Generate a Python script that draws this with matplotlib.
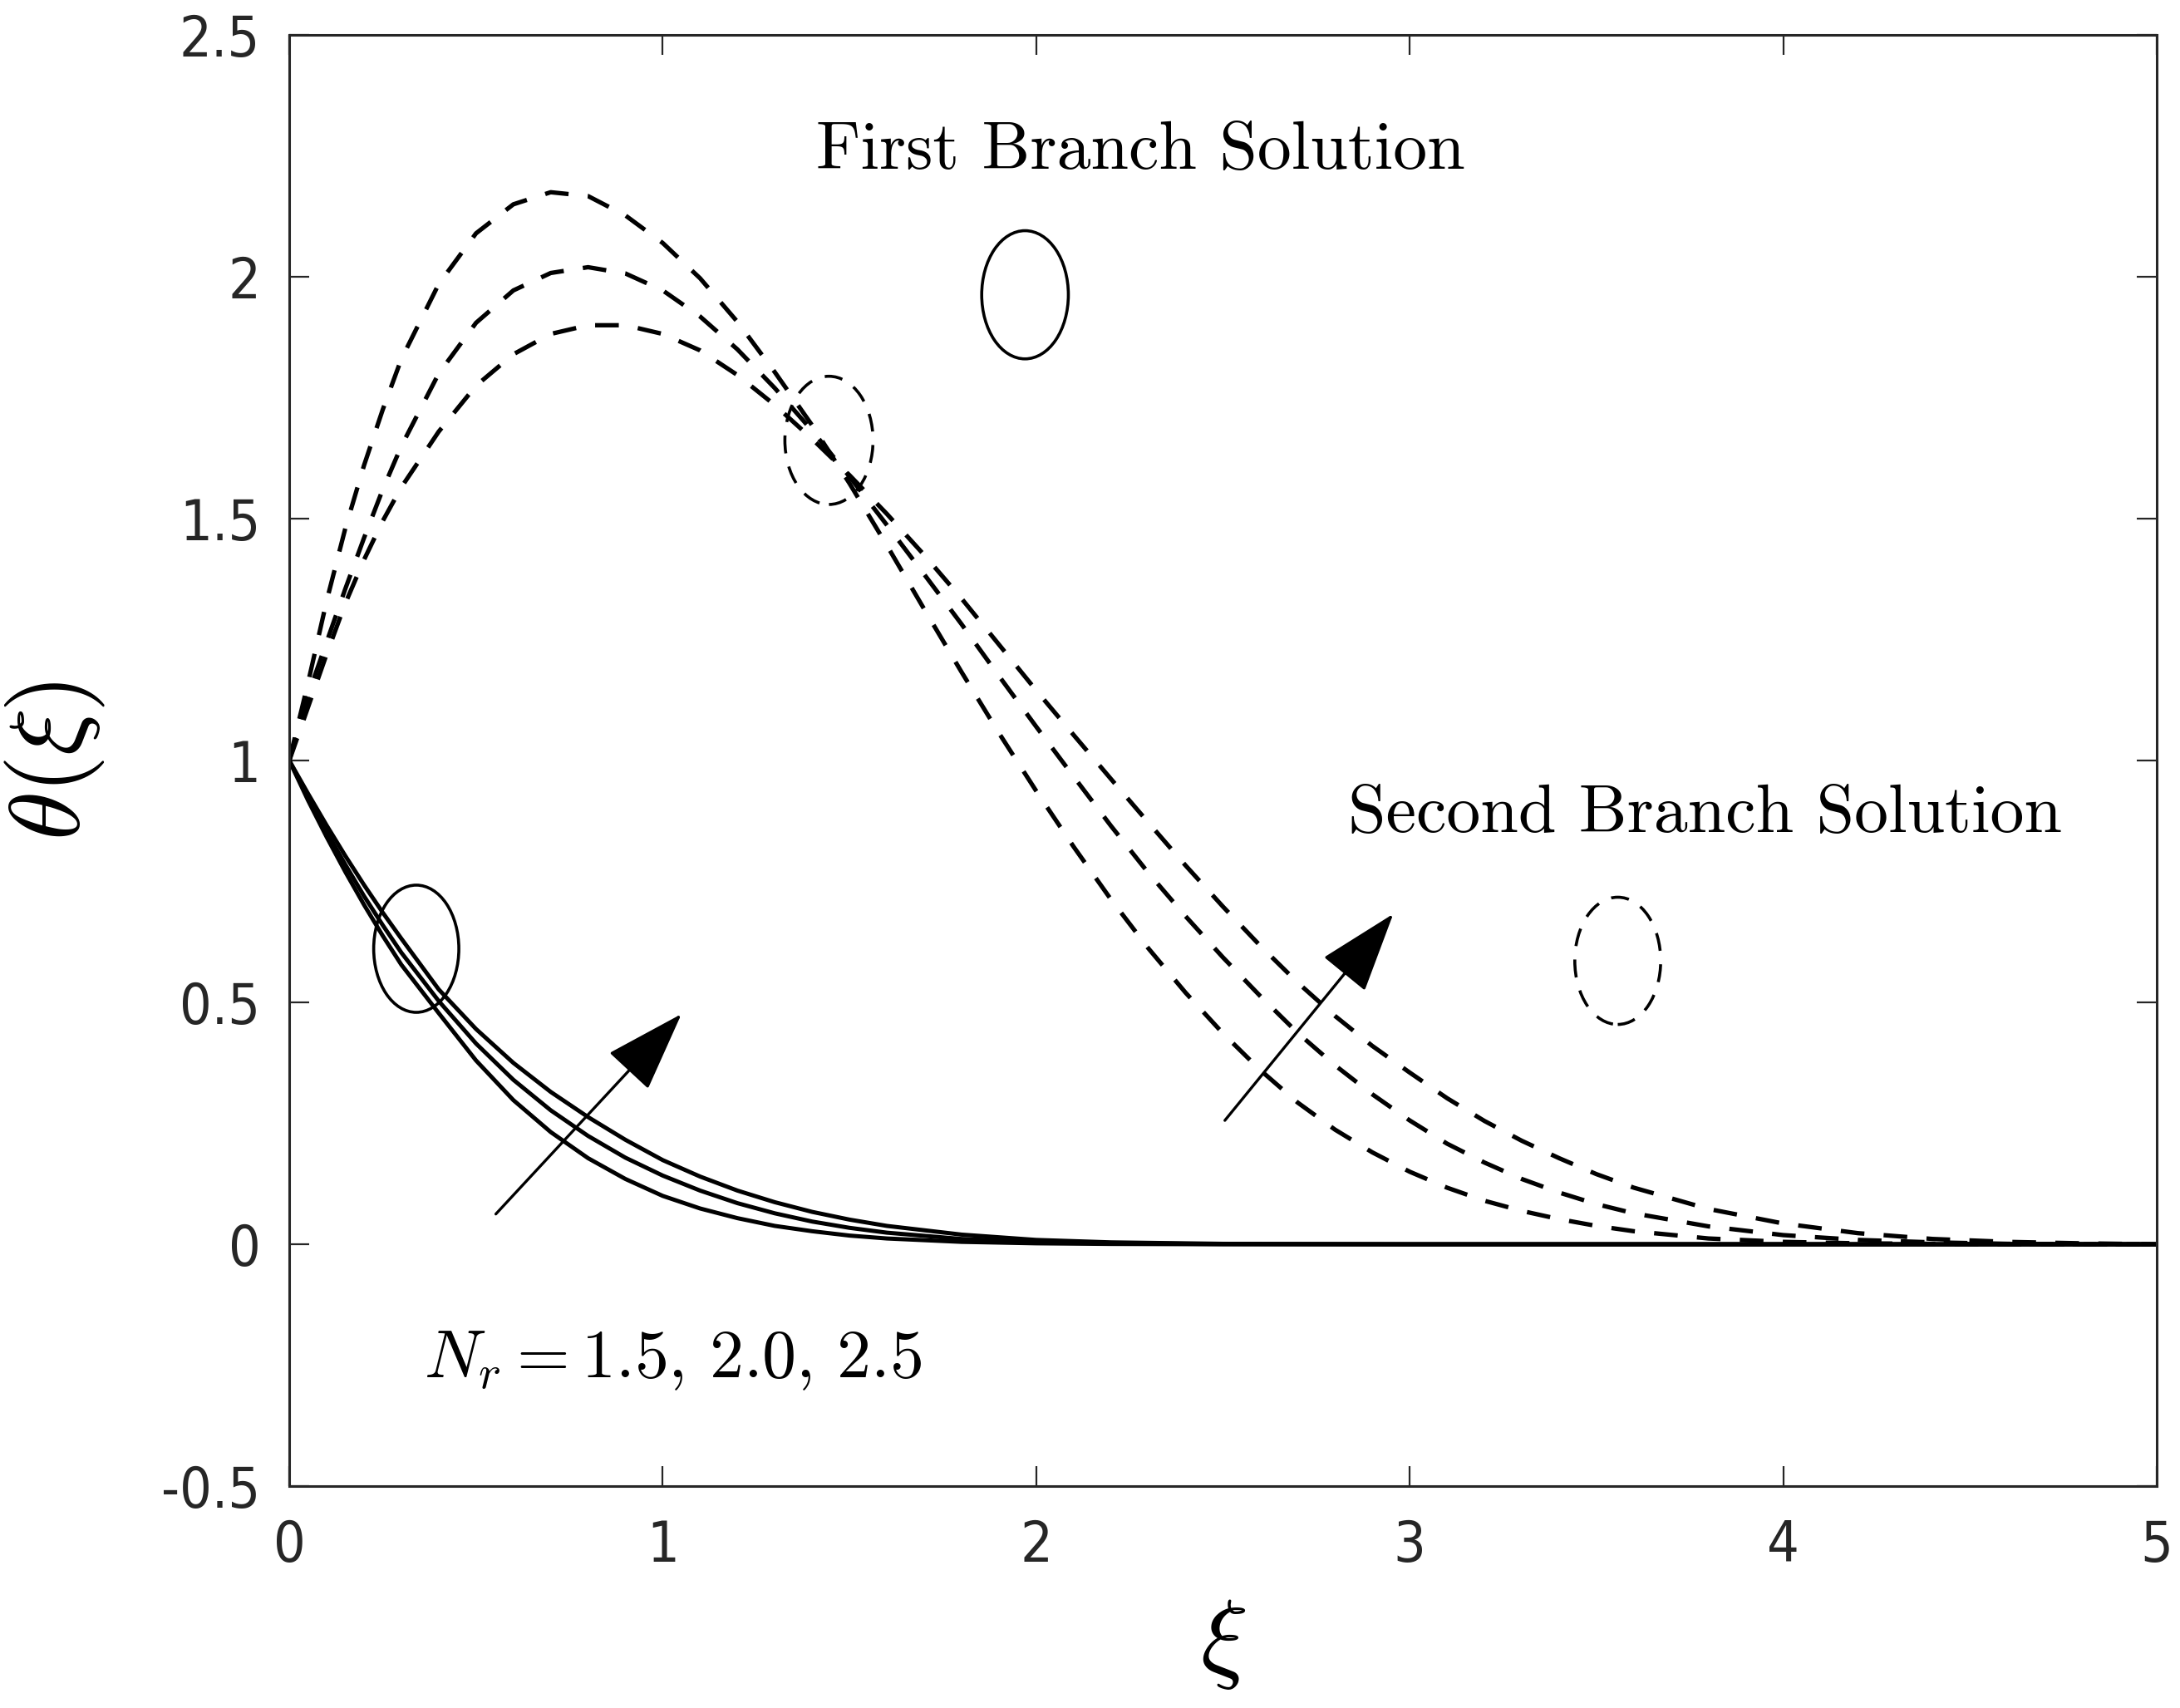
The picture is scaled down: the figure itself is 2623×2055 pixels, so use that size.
import matplotlib
matplotlib.use("Agg")
import matplotlib.pyplot as plt
from matplotlib.patches import Ellipse

plt.rcParams['mathtext.fontset'] = 'cm'

# first branch solution (solid), N_r = 1.5, 2.0, 2.5
xi_first = [0, 0.05, 0.1, 0.15, 0.2, 0.25, 0.3, 0.4, 0.5, 0.6, 0.7, 0.8, 0.9, 1.0,
            1.1, 1.2, 1.3, 1.4, 1.5, 1.6, 1.8, 2.0, 2.2, 2.5, 3.0, 3.5, 4.0, 4.5, 5.0]
first_nr15 = [1.0, 0.918, 0.842, 0.77, 0.702, 0.638, 0.578, 0.478, 0.38, 0.298, 0.232, 0.178, 0.135, 0.1,
              0.074, 0.054, 0.038, 0.027, 0.018, 0.012, 0.005, 0.002, 0.0007, 0.0, 0.0, 0.0, 0.0, 0.0, 0.0]
first_nr20 = [1.0, 0.925, 0.853, 0.785, 0.72, 0.66, 0.603, 0.503, 0.415, 0.34, 0.277, 0.224, 0.179, 0.142,
              0.111, 0.085, 0.064, 0.047, 0.034, 0.024, 0.011, 0.005, 0.002, 0.0005, 0.0, 0.0, 0.0, 0.0, 0.0]
first_nr25 = [1.0, 0.932, 0.866, 0.803, 0.743, 0.686, 0.632, 0.527, 0.445, 0.375, 0.315, 0.263, 0.216, 0.174,
              0.14, 0.111, 0.087, 0.067, 0.051, 0.038, 0.02, 0.009, 0.004, 0.001, 0.0, 0.0, 0.0, 0.0, 0.0]

# second branch solution (dashed)
xi_second = [0, 0.025, 0.05, 0.1, 0.15, 0.2, 0.25, 0.3, 0.4, 0.5, 0.6, 0.7, 0.8, 0.9, 1.0,
             1.1, 1.2, 1.3, 1.4, 1.5, 1.6, 1.7, 1.8, 1.9, 2.0, 2.1, 2.2, 2.3, 2.4, 2.5,
             2.6, 2.7, 2.8, 2.9, 3.0, 3.1, 3.2, 3.3, 3.4, 3.5, 3.6, 3.8, 4.0, 4.2, 4.4,
             4.6, 4.8, 5.0]
second_a = [1.0, 1.055, 1.11, 1.22, 1.325, 1.415, 1.495, 1.565, 1.68, 1.775, 1.84, 1.882, 1.9, 1.9, 1.882,
            1.848, 1.797, 1.735, 1.665, 1.59, 1.51, 1.425, 1.335, 1.24, 1.145, 1.053, 0.962, 0.872, 0.783, 0.698,
            0.617, 0.541, 0.472, 0.41, 0.355, 0.302, 0.255, 0.214, 0.178, 0.145, 0.117, 0.073, 0.043, 0.023, 0.011,
            0.005, 0.002, 0.0]
second_b = [1.0, 1.07, 1.135, 1.245, 1.355, 1.46, 1.56, 1.65, 1.8, 1.905, 1.972, 2.008, 2.02, 2.007, 1.972,
            1.918, 1.85, 1.77, 1.682, 1.587, 1.487, 1.385, 1.282, 1.175, 1.07, 0.967, 0.865, 0.768, 0.678, 0.593,
            0.513, 0.437, 0.37, 0.31, 0.256, 0.208, 0.169, 0.135, 0.107, 0.083, 0.064, 0.037, 0.019, 0.009, 0.004,
            0.001, 0.0, 0.0]
second_c = [1.0, 1.08, 1.16, 1.33, 1.48, 1.61, 1.725, 1.83, 1.985, 2.09, 2.15, 2.175, 2.167, 2.127, 2.07,
            1.997, 1.907, 1.803, 1.693, 1.573, 1.445, 1.313, 1.183, 1.057, 0.937, 0.822, 0.713, 0.612, 0.52, 0.436,
            0.36, 0.293, 0.237, 0.19, 0.15, 0.117, 0.09, 0.069, 0.052, 0.038, 0.027, 0.012, 0.005, 0.002, 0.001,
            0.0, 0.0, 0.0]

yticks = [-0.5, 0, 0.5, 1, 1.5, 2, 2.5]
ytick_labels = ['-0.5', '0', '0.5', '1', '1.5', '2', '2.5']
xticks = [0, 1, 2, 3, 4, 5]

fig = plt.figure(figsize=(26.23, 20.55), dpi=100)
ax = fig.add_axes([0.1327, 0.1299, 0.8566, 0.8496])

for y in (first_nr15, first_nr20, first_nr25):
    ax.plot(xi_first, y, color='black', lw=3.6, solid_joinstyle='round')
for y in (second_a, second_b, second_c):
    ax.plot(xi_second, y, color='black', lw=3.8, linestyle=(0, (5.4, 4.4)))

# grouping ellipses
ax.add_patch(Ellipse((0.34, 0.611), 0.228, 0.263, fill=False, lw=2.6, ec='black'))
ax.add_patch(Ellipse((1.97, 1.963), 0.232, 0.265, fill=False, lw=2.6, ec='black'))
ax.add_patch(Ellipse((1.445, 1.662), 0.236, 0.265, fill=False, lw=2.6, ec='black',
                     linestyle=(0, (6, 4.5))))
ax.add_patch(Ellipse((3.557, 0.586), 0.23, 0.263, fill=False, lw=2.6, ec='black',
                     linestyle=(0, (6, 4.5))))

arrow = dict(arrowstyle='-|>,head_length=0.62,head_width=0.21', mutation_scale=100,
             lw=2.4, color='black', shrinkA=0, shrinkB=0)
ax.annotate('', xy=(1.05, 0.476), xytext=(0.553, 0.0625), arrowprops=arrow)
ax.annotate('', xy=(2.956, 0.683), xytext=(2.505, 0.256), arrowprops=arrow)

ax.text(1.41, 2.223, 'First Branch Solution', family='cmr10', fontsize=59, va='baseline')
ax.text(2.836, 0.853, 'Second Branch Solution', family='cmr10', fontsize=59, va='baseline')
ax.text(0.361, -0.276, r'$N_r = 1.5,\,2.0,\,2.5$', fontsize=59, va='baseline')

ax.set_xlim(0, 5)
ax.set_ylim(-0.5, 2.5)
ax.set_xticks(xticks)
ax.set_yticks(yticks)
ax.set_yticklabels(ytick_labels)
ax.tick_params(direction='in', length=17, width=1.6, labelsize=49, color='#262626',
               labelcolor='#262626', top=True, right=True)
ax.tick_params(axis='x', pad=28)
ax.tick_params(axis='y', pad=25)
for lab in ax.get_xticklabels() + ax.get_yticklabels():
    lab.set_fontstretch('condensed')
for s in ax.spines.values():
    s.set_linewidth(2.2)
    s.set_color('#262626')

ax.set_xlabel(r'$\xi$', fontsize=86)
ax.set_ylabel(r'$\theta(\xi)$', fontsize=86)
ax.xaxis.set_label_coords(0.5, -0.075)
ax.yaxis.set_label_coords(-0.098, 0.5)

fig.savefig('out.png', dpi=100)
print("saved out.png")
